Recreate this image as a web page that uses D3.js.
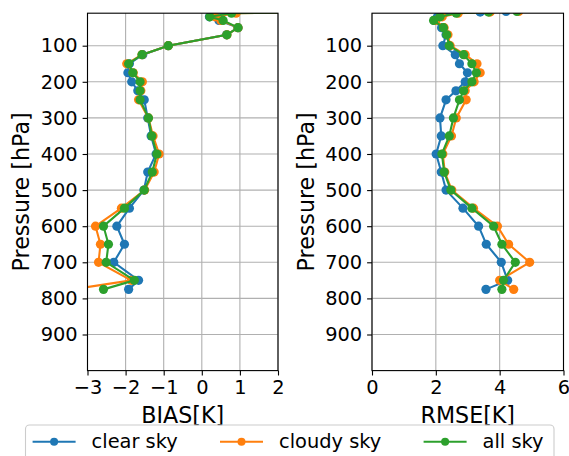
<!DOCTYPE html>
<meta charset="utf-8">
<html>
<head>
    <script src="https://d3js.org/d3.v7.js"></script>
    <style>
        body { margin: 0; background: #fff; }
        text { font-family: "DejaVu Sans", sans-serif; fill: #000; }
    </style>
</head>
<body>
<script>
// pressure levels (hPa)
var levels = [5, 7, 10, 20, 30, 50, 70, 100, 125, 150, 175, 200, 225, 250, 300, 350, 400, 450, 500, 550, 600, 650, 700, 750, 775];

// BIAS [K]
var biasClear  = [3.0, 2.8, 0.3, 0.2, 0.45, 0.95, 0.65, -0.88, -1.55, -1.9, -1.94, -1.84, -1.68, -1.51, -1.42, -1.33, -1.2, -1.42, -1.52, -1.9, -2.23, -2.03, -2.31, -1.66, -1.92];
var biasCloudy = [3.2, 3.0, 0.9, 0.35, 0.5, 0.95, 0.66, -0.88, -1.57, -1.97, -1.8, -1.56, -1.6, -1.66, -1.4, -1.28, -1.12, -1.25, -1.5, -2.11, -2.79, -2.66, -2.71, -1.85, -3.4];
var biasAll    = [3.1, 2.9, 0.78, 0.21, 0.56, 0.95, 0.66, -0.88, -1.57, -1.92, -1.81, -1.62, -1.62, -1.62, -1.4, -1.31, -1.18, -1.3, -1.51, -2.03, -2.58, -2.45, -2.51, -1.77, -2.58];

// RMSE [K]
var rmseClear  = [4.2, 3.39, 2.25, 2.05, 1.95, 2.18, 2.32, 2.22, 2.61, 2.74, 2.99, 2.92, 2.63, 2.32, 2.13, 2.17, 2.01, 2.17, 2.32, 2.85, 3.34, 3.58, 4.05, 4.25, 3.57];
var rmseCloudy = [4.6, 3.7, 2.7, 2.2, 2.0, 2.26, 2.38, 2.45, 2.92, 3.29, 3.39, 3.2, 2.92, 2.95, 2.64, 2.49, 2.22, 2.28, 2.5, 3.18, 3.93, 4.28, 4.94, 4.0, 4.44];
var rmseAll    = [4.54, 3.65, 2.64, 2.13, 1.93, 2.24, 2.34, 2.42, 2.87, 3.13, 3.27, 3.13, 2.87, 2.74, 2.55, 2.42, 2.19, 2.26, 2.47, 3.13, 3.81, 4.07, 4.49, 4.12, 4.07];

var seriesNames = ["clear sky", "cloudy sky", "all sky"];
var seriesColors = ["#1f77b4", "#ff7f0e", "#2ca02c"];

var pressureTicks = [100, 200, 300, 400, 500, 600, 700, 800, 900];
var biasTicks = [-3, -2, -1, 0, 1, 2];
var rmseTicks = [0, 2, 4, 6];

var width = 569, height = 456;
var fontSize = 19.4;     // ticks + legend
var labelSize = 22.2;    // axis labels

var svg = d3.select("body").append("svg")
    .attr("width", width)
    .attr("height", height);

var y = d3.scaleLinear()
    .domain([10, 1000])
    .range([13.2, 370.6]);

function drawPanel(id, x, ticks, series, xlabel) {
    var x0 = x.range()[0], x1 = x.range()[1];
    var top = y.range()[0], bottom = y.range()[1];
    var g = svg.append("g");

    g.append("clipPath").attr("id", "clip-" + id)
        .append("rect")
        .attr("x", x0).attr("y", top)
        .attr("width", x1 - x0).attr("height", bottom - top);

    // grid
    g.append("g").selectAll("line.vg")
        .data(ticks)
        .join("line")
        .attr("x1", d => x(d)).attr("x2", d => x(d))
        .attr("y1", top).attr("y2", bottom)
        .attr("stroke", "#b0b0b0").attr("stroke-width", 1.1);
    g.append("g").selectAll("line.hg")
        .data(pressureTicks)
        .join("line")
        .attr("x1", x0).attr("x2", x1)
        .attr("y1", d => y(d)).attr("y2", d => y(d))
        .attr("stroke", "#b0b0b0").attr("stroke-width", 1.1);

    // lines + markers
    var plot = g.append("g").attr("clip-path", "url(#clip-" + id + ")");
    var line = d3.line()
        .x(d => x(d[1]))
        .y(d => y(d[0]));
    series.forEach(function(vals, i) {
        var pts = levels.map((p, j) => [p, vals[j]]);
        plot.append("path")
            .datum(pts)
            .attr("d", line)
            .attr("fill", "none")
            .attr("stroke", seriesColors[i])
            .attr("stroke-width", 2.1);
        plot.append("g").selectAll("circle")
            .data(pts)
            .join("circle")
            .attr("cx", d => x(d[1]))
            .attr("cy", d => y(d[0]))
            .attr("r", 4.6)
            .attr("fill", seriesColors[i]);
    });

    // axes
    var ax = g.append("g")
        .attr("transform", `translate(0,${bottom})`)
        .call(d3.axisBottom(x).tickValues(ticks).tickSize(4.9).tickPadding(4.9)
            .tickFormat(d => String(d).replace("-", "\u2212")));
    var ay = g.append("g")
        .attr("transform", `translate(${x0},0)`)
        .call(d3.axisLeft(y).tickValues(pressureTicks).tickSize(4.9).tickPadding(4.9));
    [ax, ay].forEach(function(a) {
        a.select(".domain").remove();
        a.selectAll("line").attr("stroke", "#000").attr("stroke-width", 1.1);
        a.selectAll("text").style("font-size", fontSize + "px").attr("fill", "#000");
    });

    // frame
    g.append("rect")
        .attr("x", x0).attr("y", top)
        .attr("width", x1 - x0).attr("height", bottom - top)
        .attr("fill", "none")
        .attr("stroke", "#000")
        .attr("stroke-width", 1.1);

    g.append("text")
        .attr("x", (x0 + x1) / 2)
        .attr("y", 423)
        .attr("text-anchor", "middle")
        .style("font-size", labelSize + "px")
        .text(xlabel);

    g.append("text")
        .attr("transform", `translate(${x0 - 58.5},${(top + bottom) / 2}) rotate(-90)`)
        .attr("text-anchor", "middle")
        .style("font-size", labelSize + "px")
        .text("Pressure [hPa]");
}

var xBias = d3.scaleLinear().domain([-3, 2]).range([87.5, 278]);
var xRmse = d3.scaleLinear().domain([0, 6]).range([372, 563.5]);

drawPanel("bias", xBias, biasTicks, [biasClear, biasCloudy, biasAll], "BIAS[K]");
drawPanel("rmse", xRmse, rmseTicks, [rmseClear, rmseCloudy, rmseAll], "RMSE[K]");

// legend
var legend = svg.append("g");
legend.append("rect")
    .attr("x", 25.5).attr("y", 425)
    .attr("width", 528.5).attr("height", 40)
    .attr("rx", 4)
    .attr("fill", "#fff").attr("fill-opacity", 0.8)
    .attr("stroke", "#cccccc").attr("stroke-width", 1.1);

var handleX = [32.6, 220, 423.6];
seriesNames.forEach(function(name, i) {
    var hx = handleX[i];
    legend.append("line")
        .attr("x1", hx).attr("x2", hx + 43)
        .attr("y1", 441.7).attr("y2", 441.7)
        .attr("stroke", seriesColors[i]).attr("stroke-width", 2.1);
    legend.append("circle")
        .attr("cx", hx + 21.5).attr("cy", 441.7).attr("r", 4)
        .attr("fill", seriesColors[i]);
    legend.append("text")
        .attr("x", hx + 59)
        .attr("y", 448)
        .style("font-size", fontSize + "px")
        .text(name);
});
</script>
</body>
</html>
